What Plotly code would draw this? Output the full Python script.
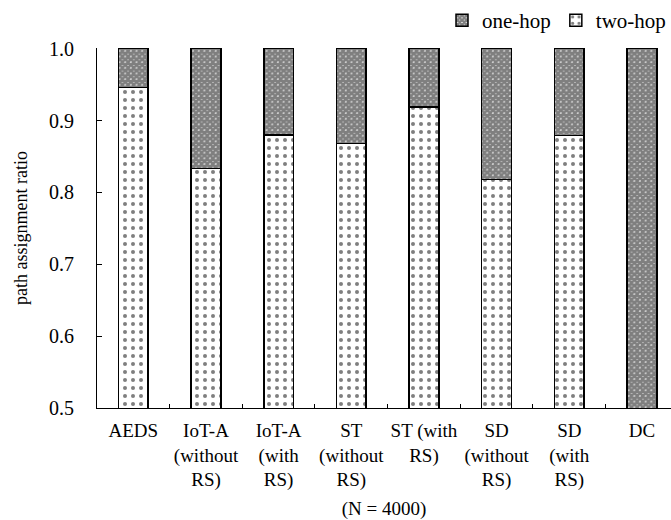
import plotly.graph_objects as go

categories = ["AEDS", "IoT-A<br>(without<br>RS)", "IoT-A<br>(with<br>RS)", "ST<br>(without<br>RS)",
              "ST (with<br>RS)", "SD<br>(without<br>RS)", "SD<br>(with<br>RS)", "DC"]
two_hop = [0.946, 0.833, 0.880, 0.868, 0.919, 0.818, 0.879, 0.0]
one_hop = [0.054, 0.167, 0.120, 0.132, 0.081, 0.182, 0.121, 1.0]
y_ticks = [0.5, 0.6, 0.7, 0.8, 0.9, 1.0]
y_tick_text = ["0.5", "0.6", "0.7", "0.8", "0.9", "1.0"]

FONT = "Liberation Serif"

fig = go.Figure()
fig.add_trace(go.Bar(
    x=categories, y=two_hop, name="two-hop", width=0.41,
    marker=dict(color="white", line=dict(color="black", width=1.5),
                pattern=dict(shape=".", size=8, solidity=0.2, fgcolor="black", bgcolor="white")),
))
fig.add_trace(go.Bar(
    x=categories, y=one_hop, name="one-hop", width=0.41,
    marker=dict(color="white", line=dict(color="black", width=1.5),
                pattern=dict(shape="x", size=4, solidity=0.9, fgcolor="black", bgcolor="white")),
))

fig.update_layout(
    width=671, height=520,
    barmode="stack",
    plot_bgcolor="white", paper_bgcolor="white",
    margin=dict(l=97, r=0, t=48, b=112, autoexpand=False),
    font=dict(family=FONT, size=19, color="black"),
    showlegend=True,
    legend=dict(orientation="h", traceorder="reversed", xref="container", yref="container",
                x=1.0, xanchor="right", y=1.0, yanchor="top",
                font=dict(family=FONT, size=21), itemwidth=30, bgcolor="rgba(0,0,0,0)"),
    xaxis=dict(range=[-0.5, 7.4], showline=True, linecolor="black", linewidth=1,
               ticks="inside", tickson="boundaries", ticklen=4, tickcolor="black",
               showgrid=False, automargin=False, tickfont=dict(family=FONT, size=19),
               tickangle=0, ticklabelstandoff=5,
               title=dict(text="(N = 4000)", standoff=11, font=dict(family=FONT, size=19))),
    yaxis=dict(range=[0.5, 1.001], showline=True, linecolor="black", linewidth=1,
               ticks="inside", ticklen=5, tickcolor="black", tickvals=y_ticks,
               ticktext=y_tick_text, showgrid=False, zeroline=False, automargin=False,
               tickfont=dict(family=FONT, size=20), ticklabelstandoff=18,
               title=dict(text="path assignment ratio", standoff=16, font=dict(family=FONT, size=18))),
)

fig.write_html("out.html", config={"displayModeBar": False},
               post_script="document.body.style.margin='0';document.body.style.padding='0';")
